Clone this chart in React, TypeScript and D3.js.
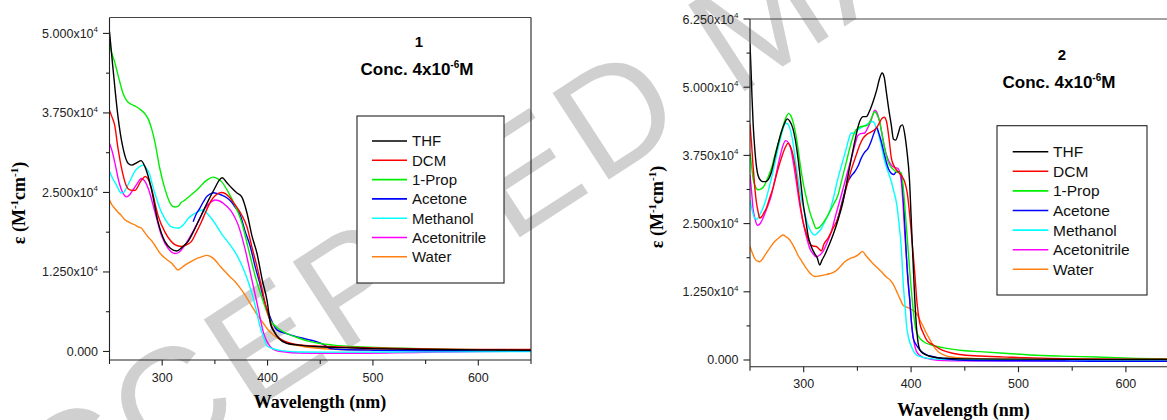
import React, { useEffect, useRef } from 'react';
import * as d3 from 'd3';

const width = 1167;
const height = 420;

const solvents = ['THF', 'DCM', '1-Prop', 'Acetone', 'Methanol', 'Acetonitrile', 'Water'];
const colors = ['#000000', '#ff0000', '#00ee00', '#0000ff', '#00ffff', '#ff00ff', '#ff8010'];

const xTicks = [250, 300, 350, 400, 450, 500, 550, 600, 650];
const xTickLabels = ['', '300', '', '400', '', '500', '', '600', ''];

// compound 1, [wavelength (nm), epsilon (M-1 cm-1)]
const thf1 = [[250, 50300], [253, 45000], [255.5, 40800], [258, 37000], [262.8, 32000], [267.6, 29600], [271, 29300], [276, 29700], [280, 30000], [284, 28900], [289.7, 25600], [296, 20400], [302.5, 17300], [308, 16200], [313.9, 15800], [319, 16400], [324.6, 17300], [331, 19300], [337.3, 21500], [344, 23800], [350, 25700], [354, 26900], [357, 27300], [361, 26600], [366, 25700], [371, 24900], [375.5, 24300], [380.4, 21800], [385, 18300], [390, 15400], [395, 11200], [399.4, 8100], [403, 4200], [406, 3200], [410, 2200], [418, 1300], [430, 1000], [445, 780], [470, 600], [500, 450], [550, 300], [600, 250], [650, 200]];
const dcm1 = [[250, 37900], [252.5, 36800], [255, 35500], [258, 32000], [262.8, 27800], [266, 26000], [269.2, 25400], [274, 25300], [280.2, 26900], [284, 27500], [287, 27000], [289.7, 25700], [296, 21400], [302.5, 18800], [308, 17400], [312, 16800], [318.3, 16500], [322, 16700], [327.8, 17300], [332, 18600], [337.3, 20400], [342, 22200], [346.8, 23800], [351, 24600], [356, 25000], [360, 24800], [364, 24200], [369, 23100], [375.3, 21500], [380.4, 19600], [385, 16500], [390, 13300], [395, 9600], [399.4, 6500], [404, 4000], [409, 2400], [418, 1500], [431, 1020], [445, 850], [462.7, 750], [500, 550], [550, 400], [600, 320], [650, 300]];
const prop1 = [[250, 48500], [252, 47000], [254.9, 45500], [259.7, 42400], [263, 40500], [266, 39500], [270, 38900], [274, 38600], [278, 38200], [280.2, 37900], [283, 37500], [286.6, 36600], [290, 35000], [293, 33000], [297.7, 28800], [302.5, 25600], [308.8, 23000], [312, 22700], [315, 22800], [318, 23400], [321.5, 23800], [326, 24400], [331, 25100], [336, 25900], [340.5, 26700], [344, 27100], [348.4, 27400], [352, 27200], [356.3, 26700], [362.6, 25100], [369, 23000], [375.3, 20400], [381.7, 16200], [388, 12000], [396, 7800], [402.6, 4900], [408, 3900], [415, 3100], [428, 2200], [440.6, 1550], [462.7, 1000], [490, 700], [526, 500], [580, 330], [650, 200]];
const acetone1 = [[329.4, 20400], [332, 21500], [335.7, 22500], [339, 23500], [342, 24300], [345, 24700], [348.6, 24950], [352, 24850], [356.3, 24600], [361, 24200], [365.8, 23500], [370, 22500], [374, 21500], [378.5, 19000], [383.6, 16500], [388, 13500], [393, 10500], [397, 7800], [401, 6000], [405, 4400], [409, 3400], [418, 2800], [428, 2300], [438, 1900], [447, 1500], [453, 1100], [459.6, 450], [470, 300], [500, 200], [550, 150], [600, 150], [650, 150]];
const methanol1 = [[250, 28300], [253, 27200], [256.5, 26200], [261.2, 24900], [263.5, 25000], [266, 25700], [270, 27000], [274, 28300], [278, 29000], [281.8, 29300], [285, 28800], [288.2, 27800], [291, 26000], [294.5, 24100], [298, 22400], [302.5, 20900], [308.8, 19600], [315, 19400], [320, 19900], [324.6, 20900], [329, 21500], [334.1, 22000], [338.5, 22250], [342, 21800], [346.8, 20900], [351.5, 19800], [356.3, 18500], [361, 17500], [366.5, 16300], [372, 14800], [377, 13000], [382, 10800], [386.7, 8200], [390, 6000], [393, 3800], [396.2, 2300], [399.4, 900], [405.7, 400], [415, 100], [430, -80], [480, -100], [550, -60], [650, 0]];
const acetonitrile1 = [[250, 32700], [252.5, 31500], [254.9, 29800], [259.7, 26200], [263, 24800], [266, 24300], [269, 24600], [272.3, 25400], [276, 26300], [280.2, 27200], [283, 26900], [286.6, 25700], [293, 22000], [299.2, 18300], [305.6, 16200], [312, 15400], [316, 15600], [321.5, 16700], [326, 17900], [331, 19400], [336, 21000], [340.5, 22500], [345, 23300], [350, 23800], [354, 23700], [357.9, 23300], [362, 22700], [365.8, 22000], [372.1, 19900], [378.5, 16200], [384.8, 11500], [390, 7600], [396.2, 2900], [402.6, 750], [409, 100], [415, -50], [430, -250], [447, -280], [470, -290], [494.5, -280], [520, -220], [560, -100], [600, 0], [650, 50]];
const water1 = [[250, 23800], [252.5, 23000], [254.9, 22500], [258, 21900], [261.2, 21400], [264, 20800], [267.6, 20400], [271, 20100], [274, 19900], [277, 19600], [280.2, 19400], [283, 18800], [286.6, 18000], [290, 17400], [293, 16700], [296, 15900], [299.2, 15200], [304, 14500], [308.8, 13900], [312, 13300], [315, 12800], [318, 13100], [321, 13500], [324.6, 13900], [329, 14300], [334.1, 14700], [338, 14900], [342, 15100], [346, 14900], [350, 14400], [355, 13400], [359.5, 12600], [364, 11800], [369, 11000], [373, 10200], [378.5, 8900], [384, 7400], [390, 5800], [396.2, 4400], [400, 3500], [405.7, 2600], [415, 1550], [431, 860], [445, 550], [462.7, 350], [500, 250], [550, 200], [600, 200], [650, 200]];

// compound 2
const thf2 = [[250, 58000], [251, 53000], [251.9, 48000], [253, 43000], [254.4, 38800], [256, 35500], [257.4, 33900], [260, 32900], [262.1, 32700], [264.5, 32700], [266.8, 33000], [270, 34500], [273, 37000], [276, 39500], [279.2, 41800], [282, 43300], [284.7, 44200], [287, 43800], [290, 42400], [292.5, 40000], [294.7, 37000], [297, 33000], [299.3, 29000], [302, 25500], [304, 22900], [307, 20800], [310.2, 19500], [312.5, 18800], [314.9, 17400], [317, 18300], [319.5, 19200], [323, 20800], [327.3, 22900], [332, 25700], [336.6, 29000], [340.5, 33000], [344.4, 37000], [348, 40500], [352.1, 43700], [355.5, 44600], [358.3, 44600], [361, 45500], [364.5, 47300], [368, 49500], [370.5, 51500], [373, 52600], [375, 51800], [376.9, 49200], [379, 46200], [381.6, 43000], [383.5, 40500], [385.6, 40300], [388, 41500], [390, 42800], [392, 43100], [394, 41500], [396, 38500], [398.5, 33000], [400.5, 24000], [402.5, 15000], [404.5, 7500], [406.5, 3200], [409, 1600], [414.5, 900], [420, 550], [433, 310], [450, 200], [500, 150], [550, 120], [600, 100], [650, 100]];
const dcm2 = [[250, 43300], [251.5, 39500], [252.8, 35700], [254.3, 32000], [255.9, 29000], [257.5, 27200], [259, 26000], [261, 26300], [263, 27000], [265.2, 27800], [268, 29500], [271.4, 31500], [275, 34200], [279.2, 37000], [282.5, 38800], [285.4, 39700], [287.5, 39200], [290, 37600], [292.5, 34800], [294.7, 31500], [297, 28200], [299.3, 25400], [302.5, 23200], [305.6, 21400], [308.5, 20900], [311.7, 20800], [314, 20400], [316.4, 20000], [319, 21300], [322.6, 22300], [327, 24000], [331.9, 26000], [336.5, 29200], [341.2, 32700], [345, 35300], [349, 37600], [352, 39300], [355.2, 40600], [359, 41400], [362.9, 41800], [367.6, 42500], [370, 43300], [372.5, 44200], [375, 44500], [377, 43800], [379.5, 40500], [381.6, 37000], [384, 35600], [387.8, 34500], [391, 33800], [394, 32700], [396.5, 30500], [398.7, 26600], [401, 21500], [403.4, 16000], [405.5, 10500], [408, 6800], [411.4, 4900], [415, 3500], [420.7, 2750], [427, 2000], [433, 1530], [445, 1000], [464, 730], [495, 490], [530, 300], [557, 200], [600, 150], [650, 120]];
const prop2 = [[250, 37900], [251.5, 35500], [252.8, 33300], [255, 31800], [257.4, 31200], [260, 31300], [263.7, 32100], [266.8, 33500], [269.9, 35100], [273.5, 37800], [277.6, 40600], [281, 43000], [283.8, 44600], [286, 45200], [288, 44800], [290, 43700], [292.5, 41500], [294.7, 38800], [297, 35500], [299.3, 32700], [302.5, 29700], [305.6, 27200], [308.5, 25500], [311.7, 24100], [314.5, 24300], [318, 25100], [321, 26000], [324.2, 27200], [328, 28600], [331.9, 30200], [335.5, 33000], [339.7, 36300], [343.5, 39300], [347.5, 41800], [350.5, 42500], [353.6, 42800], [357, 42900], [359.9, 43100], [363, 44300], [366.1, 45500], [368.5, 44900], [370.7, 43700], [373, 41300], [375.4, 38800], [377.5, 37000], [380.1, 35700], [383, 35000], [386.2, 34500], [388.5, 34400], [390.9, 34300], [393, 31000], [395, 26000], [397.1, 20500], [399.5, 14500], [401.8, 9500], [404, 6000], [407, 4300], [411.4, 3400], [420, 2700], [433, 2140], [450, 1700], [464, 1530], [490, 1200], [510.7, 920], [540, 700], [572.8, 550], [610, 300], [650, 150]];
const acetone2 = [[330.4, 25000], [333.5, 27200], [337, 29900], [341.2, 32700], [344.5, 33800], [347.5, 34500], [350.5, 35500], [353.6, 37000], [356.5, 38000], [359.9, 38800], [363, 40200], [365.5, 41600], [368, 42600], [370, 41500], [372.3, 40000], [374.5, 38200], [376.9, 36300], [379, 35000], [381.6, 34200], [384, 34000], [386.2, 34500], [388.5, 34500], [390.9, 33900], [392.5, 30500], [394, 25400], [395.5, 19500], [397.1, 14400], [398.7, 11000], [400.3, 7000], [402, 4000], [405, 2700], [408.3, 1800], [414, 1000], [420.7, 600], [430, 250], [450, -50], [500, -150], [550, -200], [600, -250], [650, -250]];
const methanol2 = [[250, 29300], [252, 27500], [254.4, 26000], [256.5, 25800], [259, 26600], [262, 27800], [265.2, 29600], [268, 31800], [271.4, 34500], [274.5, 37300], [277.6, 40000], [280.5, 42200], [282.9, 43400], [285, 43300], [287, 42500], [289.5, 40500], [291.6, 37600], [294.5, 33500], [297.8, 29600], [301, 26800], [304, 24700], [307, 23500], [310.2, 22900], [313, 23300], [316.4, 24100], [320, 25500], [324.2, 27200], [328, 30000], [331.9, 33300], [336, 36200], [339.7, 38800], [342, 40500], [344.4, 41600], [347.5, 41500], [350.6, 42200], [354.5, 42700], [358.3, 43100], [361.5, 43500], [364.5, 43700], [367, 42900], [369.2, 41800], [372, 39500], [375.4, 36400], [378.5, 34500], [381.6, 32700], [384, 30800], [386.2, 29000], [388.5, 25500], [390.9, 20500], [392.7, 14000], [394.5, 9500], [395.9, 6100], [398, 3800], [400.5, 2400], [405.2, 900], [411.4, 490], [420, 200], [440, 50], [500, 0], [650, 0]];
const acetonitrile2 = [[250, 33900], [251.5, 30800], [252.8, 27800], [254.8, 25800], [256.8, 24700], [259, 24900], [262.1, 26000], [265.5, 27700], [269.9, 30200], [273.5, 33300], [277.6, 37000], [280.5, 39200], [283.2, 40200], [285.5, 39900], [287.9, 38800], [290.5, 36000], [293.1, 32700], [296, 28800], [299.3, 25400], [302.5, 22600], [305.6, 20500], [308.5, 19500], [311.7, 18900], [314.8, 19200], [318, 19900], [321.5, 21400], [325.7, 23500], [330, 26700], [335, 30200], [339.5, 33500], [344.4, 37000], [347.5, 39300], [350.6, 41200], [353.5, 41500], [356.8, 41600], [359.5, 42500], [362.4, 43700], [364.5, 45000], [366.1, 45800], [368.5, 45200], [370.7, 43700], [373, 41300], [375.4, 38800], [378.5, 36800], [381.6, 35700], [384.5, 35300], [387.8, 35100], [390.9, 32700], [392.5, 28500], [394, 23500], [396.5, 16500], [398.7, 11300], [400.5, 6500], [402.5, 3500], [405.2, 1500], [410, 600], [414.5, 300], [425, -50], [450, -150], [500, -150], [600, -120], [650, -100]];
const water2 = [[250, 20800], [252, 19700], [254.4, 18600], [257, 18100], [259, 18000], [262, 18600], [265.2, 19600], [269, 20700], [273, 21700], [277, 22400], [280.7, 22900], [283.5, 22600], [287, 22000], [291, 20700], [294.7, 19200], [298.5, 18000], [302.4, 16800], [306, 15900], [310.2, 15300], [314.5, 15400], [319.5, 15600], [324, 15800], [328.9, 16200], [333.5, 17000], [338.2, 18000], [343, 18600], [347.5, 18900], [351, 19300], [354.6, 19900], [358, 19100], [362.9, 18000], [367.5, 17100], [372.3, 16200], [377, 15200], [380.4, 14660], [383, 14000], [386, 12800], [389.5, 11300], [392.7, 10000], [395.9, 9700], [400, 9300], [405.2, 8500], [408, 7400], [411.4, 6100], [414.5, 4800], [417.6, 3700], [421, 2500], [425.3, 1530], [432, 800], [439.3, 490], [460, 250], [500, 150], [600, 100], [650, 100]];

const yTicks1 = [0, 12500, 25000, 37500, 50000];
const yTicks2 = [0, 12500, 25000, 37500, 50000, 62500];

const panels = [
  {
    label: '1', series: [thf1, dcm1, prop1, acetone1, methanol1, acetonitrile1, water1],
    yDomain: [-1340, 52500], yTicks: yTicks1,
    left: 109.5, right: 531, top: 17.5, bottom: 360, rightBorder: true,
    titleX: 419, titleY: 47, concX: 417, concY: 75,
    legend: { x: 357, y: 116, w: 147, h: 167, lineX: 372, lineW: 35, textX: 412, rowY: 141, rowH: 19.3, font: 15 },
    yTitleX: 25, yTitleY: 203, xTitleX: 320, xTitleY: 408, tickLabelY: 381.5,
  },
  {
    label: '2', series: [thf2, dcm2, prop2, acetone2, methanol2, acetonitrile2, water2],
    yDomain: [-1230, 62500], yTicks: yTicks2,
    left: 750, right: 1179.6, top: 19, bottom: 366.7, rightBorder: false,
    titleX: 1062, titleY: 60, concX: 1059, concY: 88,
    legend: { x: 997, y: 125.7, w: 150, h: 169.3, lineX: 1012.7, lineW: 35.6, textX: 1053, rowY: 151.7, rowH: 19.6, font: 15.5 },
    yTitleX: 663, yTitleY: 207, xTitleX: 963.5, xTitleY: 416, tickLabelY: 388.3,
  },
];

const sans = 'Liberation Sans, Arial, sans-serif';
const serif = 'Liberation Serif, Times New Roman, serif';

export default function App() {
  const ref = useRef<SVGSVGElement>(null);

  useEffect(() => {
    const svg = d3.select(ref.current);
    svg.selectAll('*').remove();

    // watermark
    svg.append('text')
      .attr('transform', 'translate(-31,595) rotate(-33)')
      .attr('font-family', sans)
      .attr('font-size', 150)
      .attr('letter-spacing', 6)
      .attr('fill', '#d0d0d0')
      .text('ACCEPTED MANUSCRIPT');

    panels.forEach((p, pi) => {
      const g = svg.append('g');
      const x = d3.scaleLinear().domain([250, 650]).range([p.left, p.right]);
      const y = d3.scaleLinear().domain(p.yDomain).range([p.bottom, p.top]);

      const clipId = 'clip' + pi;
      g.append('clipPath').attr('id', clipId)
        .append('rect')
        .attr('x', p.left).attr('y', p.top)
        .attr('width', p.right - p.left).attr('height', p.bottom - p.top);

      const line = d3.line<number[]>()
        .x(d => x(d[0]))
        .y(d => y(d[1]))
        .curve(d3.curveMonotoneX);

      const curves = g.append('g').attr('clip-path', `url(#${clipId})`);
      // draw water first, THF last
      for (let i = p.series.length - 1; i >= 0; i--) {
        curves.append('path')
          .attr('d', line(p.series[i]))
          .attr('fill', 'none')
          .attr('stroke', colors[i])
          .attr('stroke-width', 1.4)
          .attr('stroke-linejoin', 'round');
      }

      // frame
      const frame = g.append('g').attr('stroke', '#222').attr('stroke-width', 1.1).attr('fill', 'none');
      frame.append('line').attr('x1', p.left).attr('x2', p.left).attr('y1', p.top).attr('y2', p.bottom);
      frame.append('line').attr('x1', p.left).attr('x2', p.right).attr('y1', p.bottom).attr('y2', p.bottom);
      frame.append('line').attr('x1', p.left).attr('x2', p.right).attr('y1', p.top).attr('y2', p.top)
        .attr('stroke', '#444');
      if (p.rightBorder) {
        frame.append('line').attr('x1', p.right).attr('x2', p.right).attr('y1', p.top).attr('y2', p.bottom);
      }

      // x ticks
      xTicks.forEach((t, i) => {
        const major = xTickLabels[i] !== '';
        frame.append('line')
          .attr('x1', x(t)).attr('x2', x(t))
          .attr('y1', p.bottom).attr('y2', p.bottom + (major ? 5.5 : 4));
        if (major) {
          g.append('text')
            .attr('x', x(t)).attr('y', p.tickLabelY)
            .attr('text-anchor', 'middle')
            .attr('font-family', sans).attr('font-size', 12.5)
            .attr('fill', '#222')
            .text(xTickLabels[i]);
        }
      });

      // y ticks
      const step = p.yTicks[1] - p.yTicks[0];
      p.yTicks.forEach(t => {
        frame.append('line')
          .attr('x1', p.left - 6.5).attr('x2', p.left)
          .attr('y1', y(t)).attr('y2', y(t));
        if (t + step / 2 < p.yDomain[1]) {
          frame.append('line')
            .attr('x1', p.left - 3.5).attr('x2', p.left)
            .attr('y1', y(t + step / 2)).attr('y2', y(t + step / 2));
        }
        const label = g.append('text')
          .attr('x', p.left - 11.5).attr('y', y(t) + 4.5)
          .attr('text-anchor', 'end')
          .attr('font-family', sans).attr('font-size', 12.5)
          .attr('fill', '#222');
        if (t === 0) {
          label.text('0.000');
        } else {
          label.append('tspan').text((t / 1e4).toFixed(3) + 'x10');
          label.append('tspan').attr('dy', -5.5).attr('font-size', 8).text('4');
        }
      });

      // titles
      g.append('text')
        .attr('x', p.titleX).attr('y', p.titleY)
        .attr('text-anchor', 'middle')
        .attr('font-family', sans).attr('font-weight', 'bold').attr('font-size', 15)
        .text(p.label);
      const conc = g.append('text')
        .attr('x', p.concX).attr('y', p.concY)
        .attr('text-anchor', 'middle')
        .attr('font-family', sans).attr('font-weight', 'bold').attr('font-size', 17);
      conc.append('tspan').text('Conc. 4x10');
      conc.append('tspan').attr('dy', -7).attr('font-size', 10).text('-6');
      conc.append('tspan').attr('dy', 7).text('M');

      // axis titles
      g.append('text')
        .attr('x', p.xTitleX).attr('y', p.xTitleY)
        .attr('text-anchor', 'middle')
        .attr('font-family', serif).attr('font-weight', 'bold').attr('font-size', 18)
        .text('Wavelength (nm)');
      const yt = g.append('text')
        .attr('transform', `translate(${p.yTitleX},${p.yTitleY}) rotate(-90)`)
        .attr('text-anchor', 'middle')
        .attr('font-family', serif).attr('font-weight', 'bold').attr('font-size', 18);
      yt.append('tspan').text('ε (M');
      yt.append('tspan').attr('dy', -7).attr('font-size', 11).text('-1');
      yt.append('tspan').attr('dy', 7).text('cm');
      yt.append('tspan').attr('dy', -7).attr('font-size', 11).text('-1');
      yt.append('tspan').attr('dy', 7).text(')');

      // legend
      const L = p.legend;
      const lg = g.append('g');
      lg.append('rect')
        .attr('x', L.x).attr('y', L.y).attr('width', L.w).attr('height', L.h)
        .attr('fill', '#fff').attr('stroke', '#222').attr('stroke-width', 1.1);
      solvents.forEach((s, i) => {
        const cy = L.rowY + i * L.rowH;
        lg.append('line')
          .attr('x1', L.lineX).attr('x2', L.lineX + L.lineW)
          .attr('y1', cy).attr('y2', cy)
          .attr('stroke', colors[i]).attr('stroke-width', 1.6);
        lg.append('text')
          .attr('x', L.textX).attr('y', cy + L.font * 0.36)
          .attr('font-family', sans).attr('font-size', L.font)
          .attr('fill', '#111')
          .text(s);
      });
    });
  }, []);

  return (
    <svg ref={ref} width={width} height={height}
      style={{ position: 'absolute', left: 0, top: 0, background: '#fff' }} />
  );
}
